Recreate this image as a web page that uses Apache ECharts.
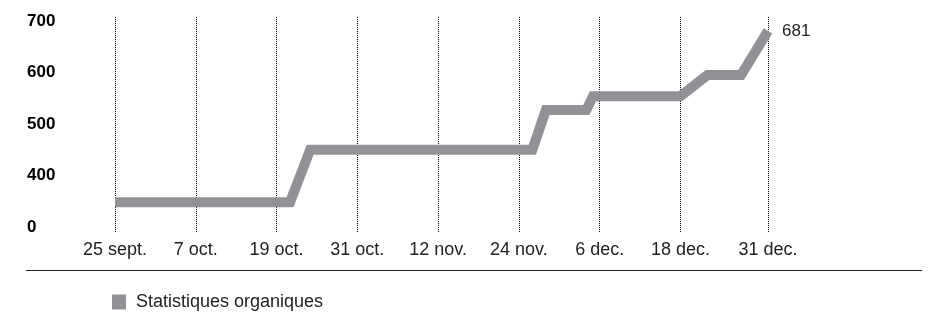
<!DOCTYPE html>
<html>
<head>
<meta charset="utf-8">
<script src="https://cdn.jsdelivr.net/npm/echarts@6/dist/echarts.min.js"></script>
<style>
  html, body { margin: 0; padding: 0; background: #fff; }
  #chart { width: 930px; height: 312px; }
</style>
</head>
<body>
<div id="chart"></div>
<script>
// data
var startDay = '2023-09-25';
var endDay = '2023-12-31';
var pointDays = ['09-25', '10-21', '10-24', '11-26', '11-28', '12-04', '12-05', '12-18', '12-22', '12-27', '12-31'];
var pointValues = [348, 348, 450, 450, 527, 527, 554, 554, 595, 595, 681];
var tickDays = ['09-25', '10-07', '10-19', '10-31', '11-12', '11-24', '12-06', '12-18', '12-31'];
var tickLabels = ['25 sept.', '7 oct.', '19 oct.', '31 oct.', '12 nov.', '24 nov.', '6 dec.', '18 dec.', '31 dec.'];
var yTicks = [300, 400, 500, 600, 700];
var yTickLabels = ['0', '400', '500', '600', '700'];
var seriesName = 'Statistiques organiques';

// one category per day on the x axis
var days = [];
var d = new Date(startDay + 'T12:00:00Z');
var last = new Date(endDay + 'T12:00:00Z');
while (d <= last) {
    var mm = ('0' + (d.getUTCMonth() + 1)).slice(-2);
    var dd = ('0' + d.getUTCDate()).slice(-2);
    days.push(mm + '-' + dd);
    d.setUTCDate(d.getUTCDate() + 1);
}

var lineColor = '#929196';
var font = '"Liberation Sans", Arial, sans-serif';

var tickIndex = function (index, value) {
    return tickDays.indexOf(days[index]) >= 0;
};

var chart = echarts.init(document.getElementById('chart'));
var option = {
    animation: false,
    backgroundColor: '#fff',
    grid: {
        left: 115,
        right: 162,
        top: 17,
        bottom: 80
    },
    legend: {
        left: 112,
        top: 293,
        padding: 0,
        icon: 'rect',
        itemWidth: 14,
        itemHeight: 15,
        textStyle: { fontFamily: font, fontSize: 18, color: '#222', padding: [0, 0, 0, 5] },
        data: [seriesName]
    },
    xAxis: {
        type: 'category',
        data: days,
        boundaryGap: false,
        axisLine: { show: false },
        axisTick: { show: false },
        axisLabel: {
            interval: tickIndex,
            margin: 9,
            fontFamily: font,
            fontSize: 18,
            color: '#222',
            formatter: function (value) {
                var i = tickDays.indexOf(value);
                return i >= 0 ? tickLabels[i] : '';
            }
        },
        splitLine: {
            show: true,
            interval: tickIndex,
            lineStyle: { color: '#000', type: 'dotted', width: 1 }
        }
    },
    yAxis: {
        type: 'value',
        min: 290,
        max: 708,
        axisLine: { show: false },
        axisTick: { show: false },
        splitLine: { show: false },
        axisLabel: {
            customValues: yTicks,
            align: 'left',
            margin: 88,
            fontFamily: font,
            fontSize: 17,
            fontWeight: 'bold',
            color: '#000',
            formatter: function (value) {
                var i = yTicks.indexOf(value);
                return i >= 0 ? yTickLabels[i] : '';
            }
        }
    },
    graphic: [{
        type: 'line',
        shape: { x1: 26, y1: 270.5, x2: 922, y2: 270.5 },
        style: { stroke: '#222', lineWidth: 1 },
        silent: true
    }],
    series: [{
        name: seriesName,
        type: 'line',
        data: pointDays.map(function (day, i) {
            return [day, pointValues[i]];
        }),
        color: lineColor,
        showSymbol: false,
        symbol: 'rect',
        lineStyle: { width: 10, color: lineColor, join: 'miter' },
        itemStyle: { color: lineColor },
        endLabel: {
            show: true,
            distance: 14,
            fontFamily: font,
            fontSize: 17,
            color: '#222',
            formatter: function (params) {
                return String(params.value[1]);
            }
        }
    }]
};
chart.setOption(option);
</script>
</body>
</html>
